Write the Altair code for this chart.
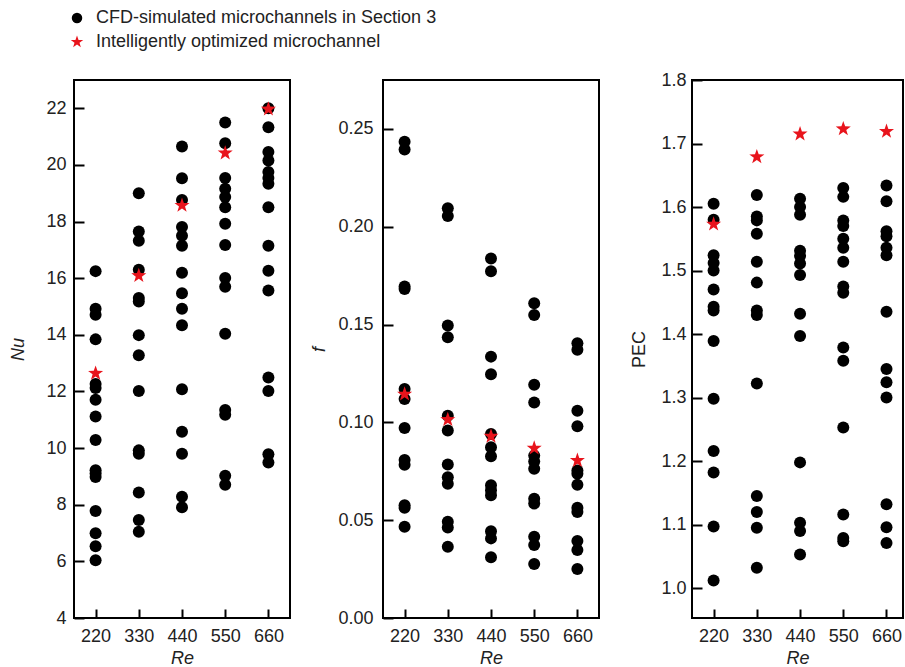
import altair as alt
import pandas as pd

FONT = "Liberation Sans"
TXT = "#222222"
RED = "#e8141c"
# five-pointed star, slightly larger than the unit box so the legend star outsizes the circle
STAR = ("M0,-1.25L0.294,-0.405L1.189,-0.386L0.475,0.155L0.735,1.011L0,0.5"
        "L-0.735,1.011L-0.475,0.155L-1.189,-0.386L-0.294,-0.405Z")

re_vals = [220, 330, 440, 550, 660]
series_names = ["CFD-simulated microchannels in Section 3", "Intelligently optimized microchannel"]

# ---- Nu ----
nu_220 = [16.25, 14.92, 14.71, 13.84, 12.26, 12.12, 11.71, 11.12, 10.29, 9.22, 9.10, 8.98, 7.78, 6.99, 6.53, 6.04]
nu_330 = [19.0, 17.65, 17.32, 16.3, 15.3, 15.18, 13.99, 13.28, 12.02, 9.92, 9.8, 8.43, 7.46, 7.05]
nu_440 = [20.65, 19.53, 18.76, 17.81, 17.5, 17.15, 16.19, 15.47, 14.92, 14.34, 12.08, 10.58, 9.8, 8.28, 7.91]
nu_550 = [21.5, 20.77, 19.54, 19.16, 18.87, 18.51, 17.92, 17.17, 16.01, 15.7, 14.04, 11.35, 11.18, 9.02, 8.71]
nu_660 = [22.0, 21.33, 20.46, 20.16, 19.75, 19.54, 19.34, 18.51, 17.15, 16.26, 15.57, 12.49, 12.02, 9.78, 9.49]
nu_opt = [12.64, 16.09, 18.57, 20.42, 21.97]

# ---- f ----
f_220 = [0.2435, 0.2395, 0.1694, 0.1682, 0.117, 0.1119, 0.0971, 0.0808, 0.0783, 0.0576, 0.0564, 0.0466]
f_330 = [0.2094, 0.2055, 0.1495, 0.1435, 0.1034, 0.0958, 0.0785, 0.072, 0.0686, 0.0492, 0.0463, 0.0364]
f_440 = [0.1838, 0.1772, 0.1336, 0.1246, 0.094, 0.0873, 0.0827, 0.0678, 0.0653, 0.0627, 0.0444, 0.0407, 0.031]
f_550 = [0.1609, 0.1549, 0.1192, 0.1102, 0.083, 0.080, 0.0763, 0.061, 0.0585, 0.0415, 0.0373, 0.0276]
f_660 = [0.1405, 0.1371, 0.1059, 0.098, 0.0754, 0.0737, 0.0681, 0.0563, 0.0542, 0.0393, 0.0347, 0.0251]
f_opt = [0.1144, 0.1014, 0.0929, 0.0868, 0.0805]

# ---- PEC ----
pec_220 = [1.605, 1.580, 1.524, 1.512, 1.500, 1.470, 1.443, 1.437, 1.389, 1.298, 1.216, 1.182, 1.097, 1.012]
pec_330 = [1.619, 1.585, 1.579, 1.558, 1.514, 1.481, 1.437, 1.430, 1.322, 1.145, 1.120, 1.095, 1.032]
pec_440 = [1.613, 1.600, 1.588, 1.531, 1.523, 1.511, 1.493, 1.432, 1.397, 1.198, 1.103, 1.090, 1.053]
pec_550 = [1.630, 1.616, 1.579, 1.570, 1.550, 1.536, 1.514, 1.475, 1.465, 1.379, 1.358, 1.253, 1.116, 1.079, 1.074]
pec_660 = [1.634, 1.609, 1.562, 1.554, 1.536, 1.524, 1.435, 1.345, 1.324, 1.300, 1.132, 1.096, 1.071]
pec_opt = [1.573, 1.679, 1.715, 1.723, 1.719]

x_major = [220, 330, 440, 550, 660]

nu_major = [4, 6, 8, 10, 12, 14, 16, 18, 20, 22]
f_major = [0.0, 0.05, 0.1, 0.15, 0.2, 0.25]
pec_major = [1.0, 1.1, 1.2, 1.3, 1.4, 1.5, 1.6, 1.7, 1.8]


def build(cols, opt):
    rows = []
    for r, vals in zip(re_vals, cols):
        for v in vals:
            rows.append({"Re": r, "v": v, "series": series_names[0]})
    pts = pd.DataFrame(rows)
    stars = pd.DataFrame({"Re": re_vals, "v": opt, "series": [series_names[1]] * len(re_vals)})
    return pts, stars


color_scale = alt.Scale(domain=series_names, range=["black", RED])
shape_scale = alt.Scale(domain=series_names, range=["circle", STAR])
leg = alt.Legend(title=None, orient="none", legendX=-6, legendY=-71, padding=0,
                 labelFont=FONT, labelFontSize=18, labelColor=TXT, symbolSize=110,
                 rowPadding=6, labelOffset=10, labelLimit=500)

W, H = 216, 538


def panel(cols, opt, ydom, ymaj, ytitle, yitalic, fmt, lpad, tpad, width, xdom):
    pts, stars = build(cols, opt)
    xs = alt.Scale(domain=xdom, nice=False, zero=False)
    ys = alt.Scale(domain=ydom, nice=False, zero=False)
    # axes are pulled inside the frame (negative offset) so the ticks point inward
    xaxis = alt.Axis(
        values=x_major, ticks=True, tickSize=9, tickWidth=2, tickColor="black", offset=-9,
        domain=False, grid=False, labelFont=FONT, labelFontSize=18, labelColor=TXT,
        labelPadding=9, format="d",
        title="Re", titleFont=FONT, titleFontSize=18, titleFontStyle="italic",
        titleFontWeight="normal", titleColor=TXT, titlePadding=4,
    )
    yaxis = alt.Axis(
        values=ymaj, ticks=True, tickSize=10, tickWidth=2, tickColor="black", offset=-10,
        domain=False, grid=False, labelFont=FONT, labelFontSize=18, labelColor=TXT,
        labelPadding=lpad, format=fmt,
        title=ytitle, titleFont=FONT, titleFontSize=18,
        titleFontStyle="italic" if yitalic else "normal",
        titleFontWeight="normal", titleColor=TXT, titlePadding=tpad,
    )
    base_pts = alt.Chart(pts).mark_point(filled=True, opacity=1, size=144).encode(
        x=alt.X("Re:Q", scale=xs, axis=xaxis),
        y=alt.Y("v:Q", scale=ys, axis=yaxis),
        color=alt.Color("series:N", scale=color_scale, legend=leg),
        shape=alt.Shape("series:N", scale=shape_scale, legend=leg),
    )
    base_star = alt.Chart(stars).mark_point(filled=True, opacity=1, size=160).encode(
        x=alt.X("Re:Q", scale=xs, axis=xaxis),
        y=alt.Y("v:Q", scale=ys, axis=yaxis),
        color=alt.Color("series:N", scale=color_scale, legend=leg),
        shape=alt.Shape("series:N", scale=shape_scale, legend=leg),
    )
    return alt.layer(base_pts, base_star).properties(width=width, height=H)


p1 = panel([nu_220, nu_330, nu_440, nu_550, nu_660], nu_opt, [4, 23], nu_major,
           "Nu", True, "d", 8, 18, W, [165, 715])
p2 = panel([f_220, f_330, f_440, f_550, f_660], f_opt, [0, 0.275], f_major,
           "f", True, ".2f", 10, 9, W, [165, 715])
p3 = panel([pec_220, pec_330, pec_440, pec_550, pec_660], pec_opt, [0.953, 1.8], pec_major,
           "PEC", False, ".1f", 6, 12, 211, [165, 702])

chart = alt.hconcat(p1, p2, p3, spacing=93, bounds="flush").properties(
    padding={"left": 8, "top": 9, "right": 0, "bottom": 0}
).configure_view(stroke="black", strokeWidth=2)

chart.save("out.html", embed_options={"renderer": "svg", "actions": False})
